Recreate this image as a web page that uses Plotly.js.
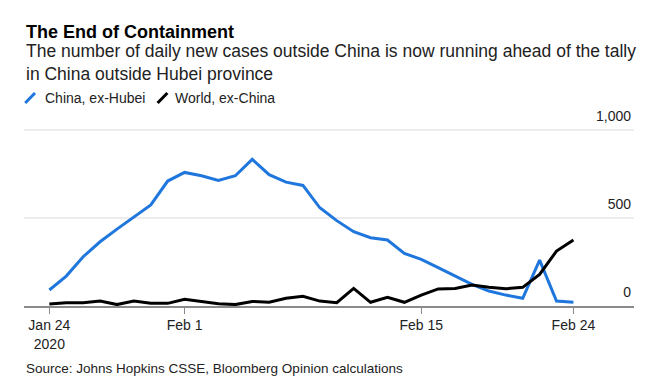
<!DOCTYPE html>
<html>
<head>
<meta charset="utf-8">
<script src="https://cdn.plot.ly/plotly-3.0.1.min.js"></script>
<style>
html,body{margin:0;padding:0;background:#fff;}
#chart{width:659px;height:390px;}
</style>
</head>
<body>
<div id="chart"></div>
<script>
const dates = [
  "2020-01-24","2020-01-25","2020-01-26","2020-01-27","2020-01-28","2020-01-29","2020-01-30","2020-01-31",
  "2020-02-01","2020-02-02","2020-02-03","2020-02-04","2020-02-05","2020-02-06","2020-02-07","2020-02-08",
  "2020-02-09","2020-02-10","2020-02-11","2020-02-12","2020-02-13","2020-02-14","2020-02-15","2020-02-16",
  "2020-02-17","2020-02-18","2020-02-19","2020-02-20","2020-02-21","2020-02-22","2020-02-23","2020-02-24"
];
const chinaExHubei = [91,170,280,365,437,504,574,710,759,740,714,740,833,746,704,685,
  558,485,422,388,375,299,265,218,172,123,85,62,44,261,28,21];
const worldExChina = [11,19,19,28,8,28,15,15,38,25,13,8,26,21,44,55,
  28,19,100,21,49,21,62,97,100,119,106,98,106,180,312,375];
const xTickVals = ["2020-01-24","2020-02-01","2020-02-15","2020-02-24"];
const xTickText = ["Jan 24<br>2020","Feb 1","Feb 15","Feb 24"];
const yTickVals = [0,500,1000];
const yTickText = ["0","500","1,000"];
const seriesNames = ["China, ex-Hubei","World, ex-China"];
const colors = ["#1f77dd","#000000"];

const FONT = "Liberation Sans, Arial, Helvetica, sans-serif";

const traces = [
  {x: dates, y: chinaExHubei, name: seriesNames[0], type: "scatter", mode: "lines",
   line: {color: colors[0], width: 3}, hoverinfo: "skip"},
  {x: dates, y: worldExChina, name: seriesNames[1], type: "scatter", mode: "lines",
   line: {color: colors[1], width: 3}, hoverinfo: "skip"},
  // empty helper trace so the label-only overlay axis is drawn
  {x: [], y: [], type: "scatter", mode: "lines", yaxis: "y2", showlegend: false, hoverinfo: "skip"}
];

const Y_TOP = 1170.5;
const LABEL_LIFT = 23; // value units (~4px) so labels sit a little higher above gridlines

const layout = {
  width: 659, height: 390,
  margin: {l: 24, r: 25, t: 100, b: 84, pad: 0},
  paper_bgcolor: "#fff", plot_bgcolor: "#fff",
  showlegend: false,
  font: {family: FONT, size: 14, color: "#222"},
  xaxis: {
    type: "date",
    range: ["2020-01-22 12:00", "2020-02-27 14:00"],
    tickvals: xTickVals, ticktext: xTickText,
    showgrid: false, zeroline: false,
    showline: true, linecolor: "#8a8a8a", linewidth: 1.5,
    ticks: "outside", ticklen: 6, tickwidth: 1.5, tickcolor: "#8a8a8a",
    tickfont: {family: FONT, size: 14, color: "#222"},
    fixedrange: true
  },
  yaxis: {
    range: [0, Y_TOP],
    side: "right",
    tickvals: yTickVals, ticktext: yTickText,
    showticklabels: false,
    showgrid: true, gridcolor: "#ececec", gridwidth: 1.5,
    zeroline: false, showline: false, ticks: "",
    fixedrange: true
  },
  yaxis2: {
    overlaying: "y",
    range: [-LABEL_LIFT, Y_TOP - LABEL_LIFT],
    side: "right",
    tickvals: yTickVals, ticktext: yTickText,
    ticklabelposition: "inside top",
    showgrid: false, zeroline: false, showline: false, ticks: "",
    tickfont: {family: FONT, size: 14, color: "#222"},
    fixedrange: true
  },
  shapes: [
    {type: "line", xref: "paper", yref: "paper", x0: 0.002, x1: 0.018, y0: 0.9854, y1: 1.034,
     line: {color: colors[0], width: 3}},
    {type: "line", xref: "paper", yref: "paper", x0: 0.219, x1: 0.235, y0: 0.9854, y1: 1.034,
     line: {color: colors[1], width: 3}}
  ],
  annotations: [
    {text: "<b>The End of Containment</b>", xref: "paper", yref: "paper", x: 0, y: 1.330,
     xanchor: "left", yanchor: "middle", showarrow: false,
     font: {family: FONT, size: 18, color: "#000"}},
    {text: "The number of daily new cases outside China is now running ahead of the tally<br>in China outside Hubei province",
     xref: "paper", yref: "paper", x: 0, y: 1.180, xanchor: "left", yanchor: "middle",
     align: "left", showarrow: false, font: {family: FONT, size: 17.5, color: "#222"}},
    {text: seriesNames[0], xref: "paper", yref: "paper", x: 0.031, y: 1.0097, xanchor: "left", yanchor: "middle",
     showarrow: false, font: {family: FONT, size: 14, color: "#222"}},
    {text: seriesNames[1], xref: "paper", yref: "paper", x: 0.244, y: 1.0097, xanchor: "left", yanchor: "middle",
     showarrow: false, font: {family: FONT, size: 14, color: "#222"}},
    {text: "Source: Johns Hopkins CSSE, Bloomberg Opinion calculations", xref: "paper", yref: "paper",
     x: 0, y: -0.301, xanchor: "left", yanchor: "middle", showarrow: false,
     font: {family: FONT, size: 13.5, color: "#222"}}
  ]
};

Plotly.newPlot("chart", traces, layout, {displayModeBar: false, staticPlot: true});
</script>
</body>
</html>
